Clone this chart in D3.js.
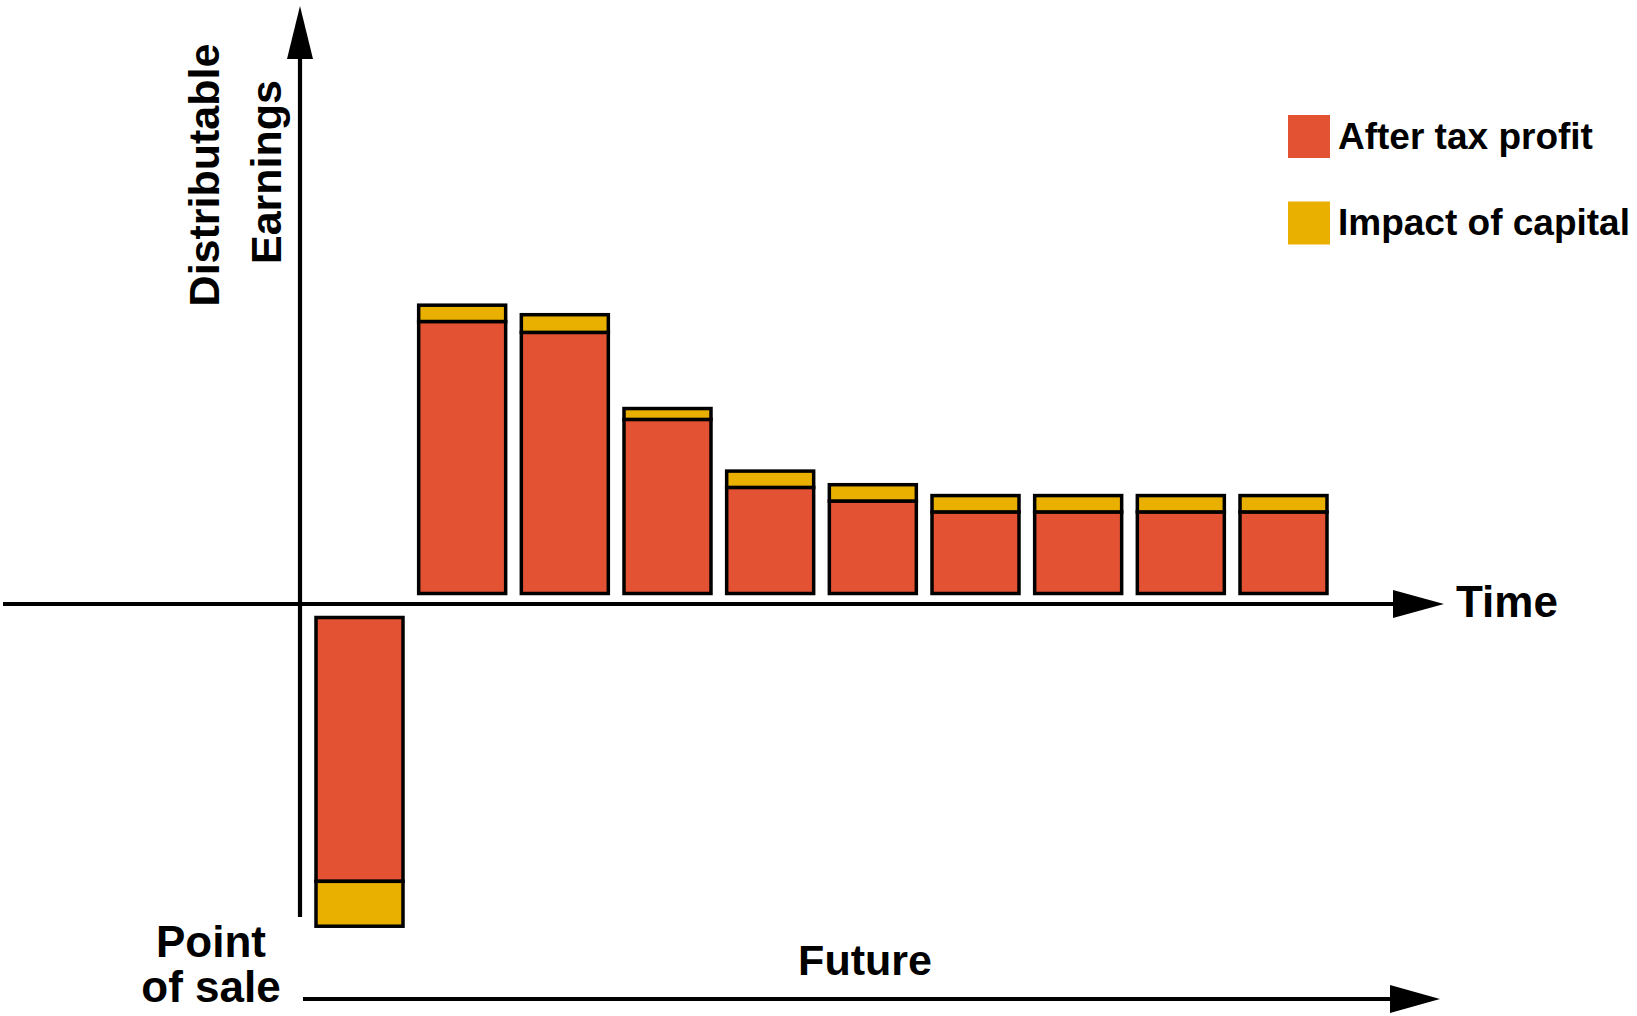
<!DOCTYPE html>
<html>
<head>
<meta charset="utf-8">
<title>Distributable Earnings over Time</title>
<script src="https://cdn.jsdelivr.net/npm/d3@7"></script>
<style>
  html, body { margin: 0; padding: 0; background: #ffffff; }
  svg { display: block; }
  text { font-family: "Liberation Sans", Arial, Helvetica, sans-serif; font-weight: bold; fill: #000; }
</style>
</head>
<body>
<svg id="chart" width="1637" height="1016"></svg>
<script>
// Periods: the point of sale followed by future periods
const periods = ["Sale", "P1", "P2", "P3", "P4", "P5", "P6", "P7", "P8", "P9"];
// After tax profit per period (strain at sale is negative)
const afterTaxProfit = [-9.7, 10, 9.6, 6.4, 3.9, 3.4, 3.0, 3.0, 3.0, 3.0];
// Impact of capital per period
const capitalImpact = [-1.65, 0.6, 0.65, 0.4, 0.6, 0.6, 0.6, 0.6, 0.6, 0.6];

const seriesNames = ["After tax profit", "Impact of capital"];
const seriesColors = ["#e45234", "#eab000"];

const svg = d3.select("#chart");

// Layout
const axisX = 300;        // vertical axis position
const zeroY = 604;        // horizontal (time) axis position
const posBase = 593.5;    // positive bars sit just above the time axis
const negBase = 617.5;    // negative bar hangs just below it

const x = d3.scaleBand()
  .domain(periods)
  .range([316, 1327])
  .paddingInner(0.1526)
  .paddingOuter(0);

// Bar length scale (value -> pixels)
const len = d3.scaleLinear().domain([0, 10]).range([0, 272]);

const rows = periods.map((p, i) => ({
  period: p,
  profit: afterTaxProfit[i],
  capital: capitalImpact[i]
}));

// Build stacked segments: profit nearest the axis, capital stacked beyond it
const segments = [];
rows.forEach(r => {
  const sign = r.profit >= 0 ? 1 : -1;
  const base = sign > 0 ? posBase : negBase;
  const p = len(Math.abs(r.profit));
  const c = len(Math.abs(r.capital));
  if (sign > 0) {
    segments.push({ period: r.period, y: base - p, h: p, s: 0 });
    segments.push({ period: r.period, y: base - p - c, h: c, s: 1 });
  } else {
    segments.push({ period: r.period, y: base, h: p, s: 0 });
    segments.push({ period: r.period, y: base + p, h: c, s: 1 });
  }
});

svg.append("g")
  .selectAll("rect")
  .data(segments)
  .join("rect")
  .attr("x", d => x(d.period))
  .attr("y", d => d.y)
  .attr("width", x.bandwidth())
  .attr("height", d => d.h)
  .attr("fill", d => seriesColors[d.s])
  .attr("stroke", "#000")
  .attr("stroke-width", 3.5);

// Axes drawn as arrows
const axes = svg.append("g");
const line = d3.line();

// Vertical axis
axes.append("path")
  .attr("d", line([[axisX, 917], [axisX, 55]]))
  .attr("stroke", "#000").attr("stroke-width", 4.2).attr("fill", "none");
axes.append("path")
  .attr("d", line([[axisX, 6], [axisX - 13, 59], [axisX + 13, 59]]) + "Z")
  .attr("fill", "#000");

// Time axis
axes.append("path")
  .attr("d", line([[3, zeroY], [1398, zeroY]]))
  .attr("stroke", "#000").attr("stroke-width", 4.2).attr("fill", "none");
axes.append("path")
  .attr("d", line([[1444, zeroY], [1393, zeroY - 14], [1393, zeroY + 14]]) + "Z")
  .attr("fill", "#000");

// "Future" arrow
const futY = 999;
axes.append("path")
  .attr("d", line([[303, futY], [1395, futY]]))
  .attr("stroke", "#000").attr("stroke-width", 4.2).attr("fill", "none");
axes.append("path")
  .attr("d", line([[1440, futY], [1390, futY - 14], [1390, futY + 14]]) + "Z")
  .attr("fill", "#000");

// Axis labels
svg.append("text")
  .attr("transform", "translate(219,175) rotate(-90)")
  .attr("text-anchor", "middle")
  .style("font-size", "43px")
  .text("Distributable");
svg.append("text")
  .attr("transform", "translate(281,172) rotate(-90)")
  .attr("text-anchor", "middle")
  .style("font-size", "43px")
  .text("Earnings");

svg.append("text")
  .attr("x", 1456).attr("y", 617)
  .style("font-size", "44px")
  .text("Time");

svg.append("text")
  .attr("x", 865).attr("y", 974.5)
  .attr("text-anchor", "middle")
  .style("font-size", "43px")
  .text("Future");

svg.append("text")
  .attr("x", 211).attr("y", 957)
  .attr("text-anchor", "middle")
  .style("font-size", "44px")
  .text("Point");
svg.append("text")
  .attr("x", 211).attr("y", 1002)
  .attr("text-anchor", "middle")
  .style("font-size", "44px")
  .text("of sale");

// Legend
const legend = svg.append("g")
  .selectAll("g")
  .data(seriesNames)
  .join("g")
  .attr("transform", (d, i) => `translate(1288,${115 + i * 86.5})`);
legend.append("rect")
  .attr("width", 42).attr("height", 43)
  .attr("fill", (d, i) => seriesColors[i]);
legend.append("text")
  .attr("x", 50).attr("y", 33.5)
  .style("font-size", "37px")
  .text(d => d);
</script>
</body>
</html>
